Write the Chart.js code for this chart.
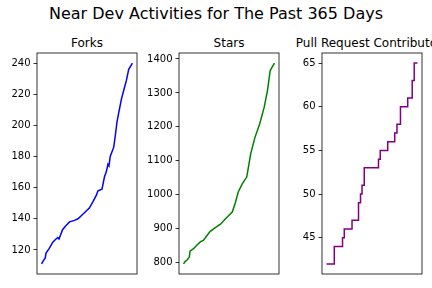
<!DOCTYPE html>
<html>
<head>
<meta charset="utf-8">
<script src="https://cdn.jsdelivr.net/npm/chart.js@4"></script>
<style>
  body { margin: 0; width: 432px; height: 288px; overflow: hidden; background: #fff; position: relative; font-family: "DejaVu Sans", sans-serif; color: #000; }
  .titulo { position: absolute; left: 0; width: 432px; top: 3.5px; text-align: center; font-size: 16px; }
  .sub { position: absolute; top: 36px; font-size: 12px; white-space: nowrap; transform: translateX(-50%); }
  canvas { position: absolute; }
</style>
</head>
<body>
<div class="titulo">Near Dev Activities for The Past 365 Days</div>
<div class="sub" style="left:87px">Forks</div>
<div class="sub" style="left:229px">Stars</div>
<div class="sub" style="left:372px">Pull Request Contributors</div>
<canvas id="forks" width="139" height="225" style="left:1px;top:51px"></canvas>
<canvas id="stars" width="139" height="225" style="left:143px;top:51px"></canvas>
<canvas id="prs" width="139" height="225" style="left:286px;top:51px"></canvas>
<script>
// Datos (día dentro de los últimos 365 días)
const forksDias = [0, 7, 15, 18, 31, 45, 58, 65, 70, 84, 100, 112, 132, 146, 159, 179, 192, 206, 219, 226, 242, 252, 259, 266, 270, 275, 289, 295, 302, 309, 320, 330, 340, 349, 364];
const forksValores = [111, 113, 115, 118, 121, 125, 127, 128, 127, 133, 136, 138, 139, 140, 142, 145, 147, 151, 155, 158, 159, 167, 170, 175, 174, 180, 186, 193, 202, 208, 217, 223, 229, 236, 240];

const starsDias = [0, 6, 13, 23, 26, 40, 53, 67, 80, 94, 107, 127, 148, 168, 181, 195, 208, 219, 235, 253, 262, 269, 286, 305, 323, 336, 347, 354, 364];
const starsValores = [796, 803, 807, 816, 834, 841, 851, 861, 866, 880, 892, 903, 913, 929, 939, 949, 978, 1008, 1032, 1052, 1091, 1121, 1169, 1209, 1258, 1307, 1366, 1375, 1388];

const prDias = [0, 31, 64, 71, 102, 128, 136, 142, 151, 208, 215, 245, 273, 282, 296, 325, 343, 351, 364];
const prValores = [42, 44, 45, 46, 47, 49, 50, 51, 53, 54, 55, 56, 57, 58, 60, 61, 63, 65, 65];

const forksTicks = [120, 140, 160, 180, 200, 220, 240];
const starsTicks = [800, 900, 1000, 1100, 1200, 1300, 1400];
const prTicks = [45, 50, 55, 60, 65];

// Marco negro alrededor del área del gráfico
const marco = {
    id: 'marco',
    afterDraw(chart) {
        const { ctx, chartArea: a } = chart;
        ctx.save();
        ctx.strokeStyle = '#000';
        ctx.lineWidth = 0.8;
        ctx.strokeRect(a.left, a.top, a.right - a.left, a.bottom - a.top);
        ctx.restore();
    }
};

// margen del 5% como matplotlib
function rango(vals) {
    const lo = Math.min(...vals), hi = Math.max(...vals), m = (hi - lo) * 0.05;
    return [lo - m, hi + m];
}

function panel(id, dias, valores, ticks, color, escalonado) {
    const [yMin, yMax] = rango(valores);
    const [xMin, xMax] = rango(dias);
    new Chart(document.getElementById(id), {
        type: 'line',
        data: {
            datasets: [{
                data: dias.map((d, i) => ({ x: d, y: valores[i] })),
                borderColor: color,
                borderWidth: 1.5,
                pointRadius: 0,
                tension: 0,
                stepped: escalonado
            }]
        },
        options: {
            responsive: false,
            animation: false,
            layout: { padding: { top: 2, bottom: 2, right: 3, left: 0 } },
            plugins: { legend: { display: false }, tooltip: { enabled: false } },
            scales: {
                x: { type: 'linear', display: false, min: xMin, max: xMax },
                y: {
                    min: yMin,
                    max: yMax,
                    afterFit: s => { s.width = 36; s.paddingTop = 0; s.paddingBottom = 0; },
                    afterBuildTicks: s => { s.ticks = ticks.map(v => ({ value: v })); },
                    border: { display: false },
                    grid: { display: true, drawOnChartArea: false, drawTicks: true, tickLength: 3.5, color: '#000', lineWidth: 0.8 },
                    ticks: { color: '#000', padding: 3, font: { family: 'DejaVu Sans', size: 10 }, callback: v => String(v) }
                }
            }
        },
        plugins: [marco]
    });
}

panel('forks', forksDias, forksValores, forksTicks, 'blue', false);
panel('stars', starsDias, starsValores, starsTicks, 'green', false);
panel('prs', prDias, prValores, prTicks, 'purple', true);
</script>
</body>
</html>
